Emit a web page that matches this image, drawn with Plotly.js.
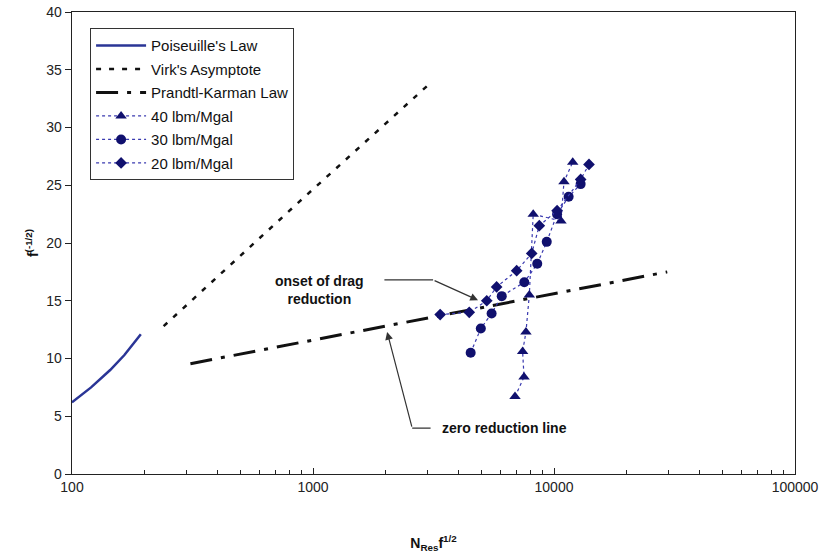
<!DOCTYPE html>
<html>
<head>
<meta charset="utf-8">
<script src="https://cdn.plot.ly/plotly-3.0.1.min.js"></script>
<style>html,body{margin:0;padding:0;background:#fff;}#chart{width:827px;height:559px;}</style>
</head>
<body>
<div id="chart"></div>
<script>
// ---- data ----
var poiseuilleX = [100, 120, 144, 165, 193];
var poiseuilleY = [6.2, 7.5, 9.0, 10.3, 12.1];

var virkX = [240, 880, 3050];
var virkY = [12.8, 23.6, 33.8];

var prandtlX = [310, 2000, 10000, 29500];
var prandtlY = [9.55, 12.8, 15.6, 17.5];

var lb40X = [6890, 7510, 7410, 7650, 7900, 8200, 10690, 11000, 11960];
var lb40Y = [6.7, 8.4, 10.6, 12.3, 15.5, 22.5, 21.9, 25.3, 27.0];

var lb30X = [4510, 4970, 5510, 6070, 7530, 8520, 9330, 10300, 11500, 12900];
var lb30Y = [10.5, 12.6, 13.9, 15.4, 16.6, 18.2, 20.1, 22.5, 24.0, 25.1];

var lb20X = [3370, 4450, 5260, 5780, 7000, 8080, 8690, 10300, 12900, 13970];
var lb20Y = [13.8, 14.0, 15.0, 16.2, 17.6, 19.1, 21.5, 22.8, 25.5, 26.8];

var xTickVals = [100, 1000, 10000, 100000];
var xTickText = ['100', '1000', '10000', '100000'];
var yTickVals = [0, 5, 10, 15, 20, 25, 30, 35, 40];

var seriesNames = ["Poiseuille's Law", "Virk's Asymptote", "Prandtl-Karman Law",
                   "40 lbm/Mgal", "30 lbm/Mgal", "20 lbm/Mgal"];

var navy = '#10106e';
var L = Math.log10;

var traces = [
  {x: poiseuilleX, y: poiseuilleY, name: seriesNames[0], mode: 'lines', legendgroup: 'a',
   line: {color: '#2a3596', width: 2.5}},
  {x: virkX, y: virkY, name: seriesNames[1], mode: 'lines', legendgroup: 'b',
   line: {color: '#111', width: 2.5, dash: '5px,8px'}},
  {x: prandtlX, y: prandtlY, name: seriesNames[2], mode: 'lines', legendgroup: 'c',
   line: {color: '#111', width: 3, dash: '22px,9px,4px,9px'}},
  {x: lb40X, y: lb40Y, name: seriesNames[3], mode: 'lines+markers', legendgroup: 'd',
   line: {color: '#3a3ab0', width: 1.2, dash: 'dot'},
   marker: {symbol: 'triangle-up', size: 10, color: navy}},
  {x: lb30X, y: lb30Y, name: seriesNames[4], mode: 'lines+markers', legendgroup: 'e',
   line: {color: '#3a3ab0', width: 1.2, dash: 'dot'},
   marker: {symbol: 'circle', size: 10, color: navy}},
  {x: lb20X, y: lb20Y, name: seriesNames[5], mode: 'lines+markers', legendgroup: 'f',
   line: {color: '#3a3ab0', width: 1.2, dash: 'dot'},
   marker: {symbol: 'diamond', size: 9, color: navy}}
];

var annFont = {family: 'Liberation Sans, Arial, sans-serif', size: 14, color: '#111'};

var layout = {
  width: 827, height: 559,
  margin: {l: 72, r: 32, t: 12, b: 85},
  paper_bgcolor: '#fff', plot_bgcolor: '#fff',
  font: {family: 'Liberation Sans, Arial, sans-serif', color: '#222'},
  showlegend: true,
  legend: {
    x: 0.025, y: 0.965, xanchor: 'left', yanchor: 'top',
    bordercolor: '#333', borderwidth: 1, bgcolor: '#fff',
    font: {size: 15, color: '#111'},
    itemwidth: 50,
    traceorder: 'grouped', tracegroupgap: 1
  },
  xaxis: {
    type: 'log', range: [2, 5],
    tickvals: xTickVals, ticktext: xTickText,
    ticks: 'inside', ticklen: 6, tickcolor: '#222',
    minor: {ticks: 'inside', ticklen: 4, tickcolor: '#222', dtick: 'D1', showgrid: false},
    showline: true, linecolor: '#222', linewidth: 1.3, mirror: true,
    showgrid: false, zeroline: false,
    tickfont: {size: 14, color: '#222'},
    title: {text: '<b>N<sub>Res</sub>f<sup>1/2</sup></b>', font: {size: 14, color: '#111'}, standoff: 44}
  },
  yaxis: {
    range: [0, 40], tickvals: yTickVals,
    ticks: 'outside', ticklen: 6, tickcolor: '#222',
    showline: true, linecolor: '#222', linewidth: 1.3, mirror: true,
    showgrid: false, zeroline: false,
    tickfont: {size: 14, color: '#222'},
    title: {text: '<b>f<sup>(-1/2)</sup></b>', font: {size: 14, color: '#111'}, standoff: 4}
  },
  annotations: [
    {x: L(1060), y: 15.9, xref: 'x', yref: 'y', text: '<b>onset of drag<br>reduction</b>',
     showarrow: false, font: annFont, align: 'center'},
    {x: L(3150), y: 16.8, ax: L(1950), ay: 16.8, xref: 'x', yref: 'y', axref: 'x', ayref: 'y',
     text: '', showarrow: true, arrowhead: 0, arrowwidth: 1.2, arrowcolor: '#333'},
    {x: L(4840), y: 15.05, ax: L(3150), ay: 16.8, xref: 'x', yref: 'y', axref: 'x', ayref: 'y',
     text: '', showarrow: true, arrowhead: 2, arrowsize: 1.3, arrowwidth: 1.2, arrowcolor: '#333'},
    {x: L(3370), y: 3.98, xanchor: 'left', xref: 'x', yref: 'y', text: '<b>zero reduction line</b>',
     showarrow: false, font: annFont},
    {x: L(2580), y: 3.98, ax: L(3120), ay: 3.98, xref: 'x', yref: 'y', axref: 'x', ayref: 'y',
     text: '', showarrow: true, arrowhead: 0, arrowwidth: 1.2, arrowcolor: '#333'},
    {x: L(2030), y: 12.3, ax: L(2580), ay: 3.98, xref: 'x', yref: 'y', axref: 'x', ayref: 'y',
     text: '', showarrow: true, arrowhead: 2, arrowsize: 1.3, arrowwidth: 1.2, arrowcolor: '#333'}
  ]
};

Plotly.newPlot('chart', traces, layout, {displayModeBar: false, staticPlot: true});
</script>
</body>
</html>
